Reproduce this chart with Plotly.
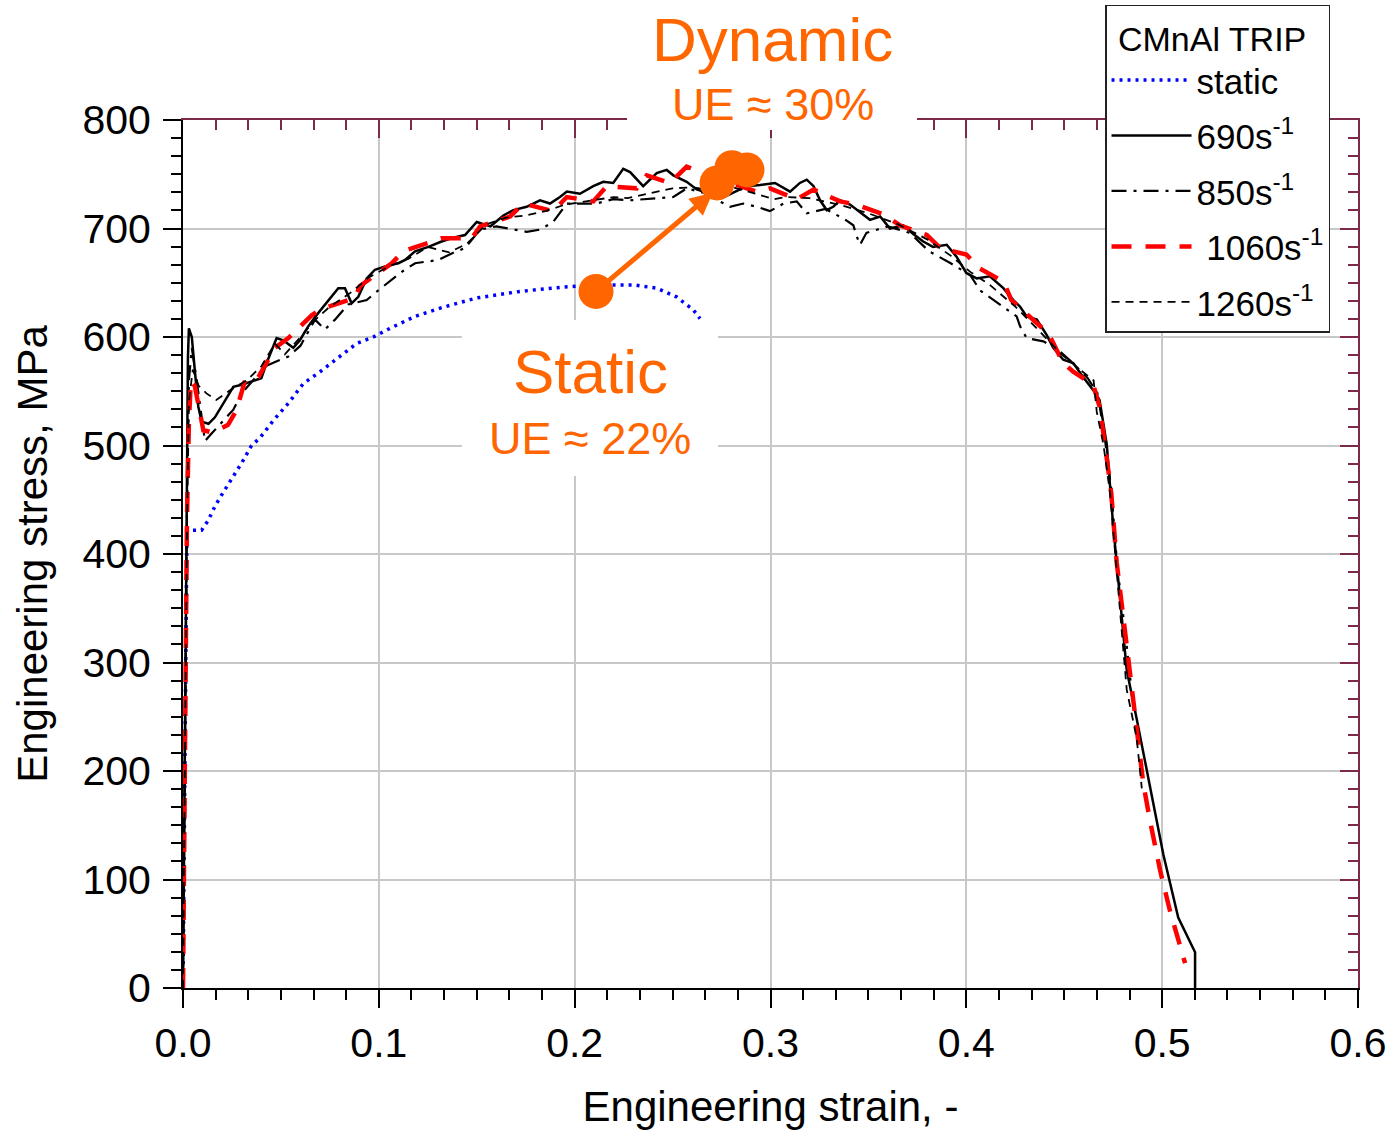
import plotly.graph_objects as go

# ---------------- data ----------------
static_strain = [0, 0.0005, 0.001, 0.0015, 0.002, 0.005, 0.0095, 0.0129, 0.0163, 0.0206, 0.0257,
                 0.030, 0.035, 0.0393, 0.0461, 0.0538, 0.0614, 0.070, 0.0793, 0.0887, 0.0972,
                 0.1057, 0.1185, 0.132, 0.150, 0.172, 0.194, 0.211, 0.230, 0.242, 0.252, 0.2606, 0.264]
static_stress = [0, 120, 260, 360, 422, 422, 422, 431, 444, 457, 471,
                 484, 500, 507, 523, 539, 557, 568, 581, 594, 600,
                 608, 619, 627, 636, 642, 646, 648, 648, 645, 637, 625, 617]

s690_strain = [0, 0.001, 0.002, 0.0025, 0.003, 0.0045, 0.006, 0.0078, 0.0095, 0.013, 0.0163,
               0.0198, 0.0257, 0.030, 0.035, 0.040, 0.0427, 0.0453, 0.0478, 0.0512, 0.0563,
               0.0597, 0.064, 0.069, 0.0725, 0.0768, 0.0793, 0.0827, 0.0861, 0.0895, 0.0938,
               0.098, 0.1048, 0.110, 0.1134, 0.1185, 0.1253, 0.132, 0.139, 0.144, 0.150,
               0.157, 0.1636, 0.1687, 0.1755, 0.1823, 0.1874, 0.1925, 0.196, 0.2027, 0.2095,
               0.2146, 0.2197, 0.2248, 0.2283, 0.235, 0.2419, 0.247, 0.2504, 0.2572, 0.2623,
               0.2657, 0.275, 0.281, 0.2878, 0.2946, 0.3023, 0.31, 0.315, 0.3185, 0.322,
               0.3253, 0.3287, 0.332, 0.3355, 0.3406, 0.3457, 0.3508, 0.356, 0.361, 0.3678,
               0.3729, 0.378, 0.383, 0.390, 0.395, 0.400, 0.4053, 0.412, 0.4189, 0.424,
               0.4274, 0.4308, 0.436, 0.441, 0.4444, 0.4495, 0.4546, 0.4597, 0.4648, 0.468,
               0.4717, 0.475, 0.4785, 0.4819, 0.487, 0.4938, 0.5006, 0.5082, 0.5168, 0.5168]
s690_stress = [0, 250, 480, 580, 608, 600, 570, 536, 522, 520, 526,
               536, 554, 556, 559, 562, 576, 588, 599, 597, 590,
               597, 610, 622, 630, 639, 645, 645, 631, 637, 654,
               662, 666, 668, 671, 679, 683, 688, 692, 694, 706,
               702, 712, 717, 720, 726, 723, 729, 734, 732, 739,
               743, 742, 755, 752, 739, 751, 754, 749, 743, 736,
               734, 728, 733, 739, 740, 742, 734, 742, 745, 739,
               726, 717, 720, 726, 722, 715, 708, 711, 700, 703,
               695, 688, 683, 685, 674, 659, 654, 656, 645, 634,
               628, 619, 616, 602, 590, 579, 576, 563, 551, 542,
               501, 426, 361, 293, 248, 184, 123, 65, 33, 0]

s850_strain = [0, 0.001, 0.002, 0.003, 0.0045, 0.007, 0.0112, 0.0146, 0.0257, 0.030, 0.0419,
               0.047, 0.0538, 0.060, 0.0674, 0.0725, 0.0776, 0.0844, 0.0938, 0.0997, 0.1048,
               0.1117, 0.1185, 0.1304, 0.1372, 0.144, 0.1517, 0.160, 0.1755, 0.1823, 0.189,
               0.196, 0.211, 0.2197, 0.2283, 0.2368, 0.2504, 0.2572, 0.2657, 0.2793, 0.2861,
               0.293, 0.2997, 0.3066, 0.3134, 0.3185, 0.328, 0.3374, 0.3423, 0.344, 0.3457,
               0.349, 0.360, 0.371, 0.381, 0.392, 0.402, 0.407, 0.4138, 0.4257, 0.4274,
               0.4308, 0.4393, 0.447, 0.455, 0.462, 0.467, 0.4705, 0.474, 0.477, 0.481, 0.484]
s850_stress = [0, 240, 440, 560, 590, 560, 504, 511, 533, 548, 573,
               577, 582, 592, 616, 607, 616, 630, 634, 643, 650,
               660, 668, 671, 677, 682, 699, 702, 697, 699, 706,
               723, 723, 727, 726, 727, 729, 737, 733, 720, 723,
               720, 716, 723, 725, 714, 718, 709, 703, 693, 685,
               696, 702, 696, 679, 668, 657, 643, 634, 619, 610,
               599, 596, 588, 575, 562, 548, 510, 460, 390, 330, 280]

s1060_strain = [0, 0.001, 0.002, 0.003, 0.004, 0.006, 0.0104, 0.015, 0.023, 0.0274, 0.0317,
                0.0385, 0.047, 0.0538, 0.0657, 0.0708, 0.0878, 0.0904, 0.1066, 0.1125, 0.132,
                0.1474, 0.1517, 0.167, 0.1738, 0.189, 0.196, 0.2095, 0.2164, 0.2317, 0.2368,
                0.2487, 0.2572, 0.275, 0.293, 0.2997, 0.3134, 0.322, 0.3355, 0.344, 0.3576,
                0.366, 0.3798, 0.3866, 0.400, 0.407, 0.419, 0.423, 0.434, 0.442, 0.4495,
                0.4546, 0.4648, 0.468, 0.4708, 0.474, 0.4768, 0.4819, 0.4853, 0.4904, 0.4938,
                0.499, 0.504, 0.5117]
s1060_stress = [0, 250, 430, 520, 560, 555, 514, 512, 519, 533, 560,
                563, 590, 599, 620, 626, 636, 647, 668, 679, 691,
                691, 702, 711, 723, 716, 729, 725, 739, 737, 749,
                742, 757, 745, 734, 737, 727, 736, 725, 722, 713,
                703, 694, 682, 676, 663, 651, 634, 616, 603, 576,
                568, 556, 536, 501, 456, 392, 316, 267, 188, 154,
                108, 71, 23]

s1260_strain = [0, 0.001, 0.002, 0.003, 0.005, 0.008, 0.012, 0.017, 0.025, 0.0325, 0.040,
                0.047, 0.052, 0.060, 0.067, 0.075, 0.085, 0.095, 0.105, 0.115, 0.125,
                0.136, 0.145, 0.155, 0.165, 0.175, 0.185, 0.195, 0.205, 0.213, 0.220,
                0.227, 0.240, 0.250, 0.260, 0.270, 0.279, 0.290, 0.302, 0.308, 0.320,
                0.335, 0.350, 0.365, 0.380, 0.392, 0.402, 0.412, 0.425, 0.437, 0.448,
                0.458, 0.465, 0.4666, 0.470, 0.4734, 0.4768, 0.4819, 0.487, 0.4896]
s1260_stress = [0, 230, 420, 540, 570, 555, 548, 542, 552, 560, 573,
                594, 584, 600, 615, 628, 640, 655, 665, 672, 683,
                678, 686, 704, 710, 712, 716, 722, 725, 727, 729,
                728, 733, 737, 738, 735, 739, 733, 727, 729, 728,
                722, 714, 704, 690, 675, 660, 648, 628, 606, 585,
                570, 560, 531, 501, 456, 381, 275, 230, 184]

# highlighted uniform-elongation points
ue_strain = [0.2109, 0.2727, 0.2803, 0.288]
ue_stress = [642, 742, 756, 754]

x_ticks = [0.0, 0.1, 0.2, 0.3, 0.4, 0.5, 0.6]
y_ticks = [0, 100, 200, 300, 400, 500, 600, 700, 800]

FONT = "Liberation Sans, Arial, sans-serif"
ORANGE = "#FF6600"
MAROON = "#7d2a4a"

fig = go.Figure()
fig.add_trace(go.Scatter(x=static_strain, y=static_stress, mode="lines", name="static",
                         legendgroup="a",
                         line=dict(color="#0000FF", width=3.5, dash="3px,5px")))
fig.add_trace(go.Scatter(x=s690_strain, y=s690_stress, mode="lines", name="690s<sup>-1</sup>",
                         legendgroup="b",
                         line=dict(color="black", width=2.5)))
fig.add_trace(go.Scatter(x=s850_strain, y=s850_stress, mode="lines", name="850s<sup>-1</sup>",
                         legendgroup="c",
                         line=dict(color="black", width=2.2, dash="15px,7px,3px,7px")))
fig.add_trace(go.Scatter(x=s1060_strain, y=s1060_stress, mode="lines", name=" 1060s<sup>-1</sup>",
                         legendgroup="d",
                         line=dict(color="#FF0000", width=4.5, dash="20px,14px")))
fig.add_trace(go.Scatter(x=s1260_strain, y=s1260_stress, mode="lines", name="1260s<sup>-1</sup>",
                         legendgroup="e",
                         line=dict(color="black", width=1.8, dash="8px,6px")))
fig.add_trace(go.Scatter(x=ue_strain, y=ue_stress, mode="markers", showlegend=False,
                         marker=dict(color=ORANGE, size=35, line=dict(width=0))))
# helper trace for the mirrored (top / right) axes
fig.add_trace(go.Scatter(x=[None], y=[None], xaxis="x2", yaxis="y2", showlegend=False,
                         hoverinfo="skip"))

# arrow from static UE to dynamic UE
fig.add_annotation(x=0.2705, y=733, ax=ue_strain[0], ay=ue_stress[0], xref="x", yref="y",
                   axref="x", ayref="y", text="", showarrow=True, arrowhead=2, arrowsize=0.9,
                   arrowwidth=5, arrowcolor=ORANGE, standoff=0, startstandoff=0)

# white boxes behind the text labels
fig.add_shape(type="rect", xref="paper", yref="paper", x0=0.3779, x1=0.6247, y0=0.9885, y1=1.14,
              fillcolor="white", line=dict(width=0), layer="above")
fig.add_shape(type="rect", xref="paper", yref="paper", x0=0.2374, x1=0.4553, y0=0.5899, y1=0.7696,
              fillcolor="white", line=dict(width=0), layer="above")

fig.add_annotation(x=0.502, y=1.0922, xref="paper", yref="paper", text="Dynamic", showarrow=False,
                   font=dict(size=62, color=ORANGE, family=FONT), xanchor="center", yanchor="middle")
fig.add_annotation(x=0.502, y=1.0173, xref="paper", yref="paper", text="UE ≈ 30%", showarrow=False,
                   font=dict(size=45, color=ORANGE, family=FONT), xanchor="center", yanchor="middle")
fig.add_annotation(x=0.3464, y=0.7097, xref="paper", yref="paper", text="Static", showarrow=False,
                   font=dict(size=62, color=ORANGE, family=FONT), xanchor="center", yanchor="middle")
fig.add_annotation(x=0.3464, y=0.6336, xref="paper", yref="paper", text="UE ≈ 22%", showarrow=False,
                   font=dict(size=45, color=ORANGE, family=FONT), xanchor="center", yanchor="middle")

fig.update_layout(
    width=1393, height=1136,
    margin=dict(l=183, r=35, t=120, b=148, autoexpand=False),
    paper_bgcolor="white", plot_bgcolor="white",
    font=dict(family=FONT, color="black"),
    xaxis=dict(range=[0, 0.6], tickvals=x_ticks, ticktext=[f"{v:.1f}" for v in x_ticks],
               ticks="outside", ticklen=18, tickwidth=2, tickcolor="black",
               minor=dict(dtick=0.1 / 6, ticks="outside", ticklen=10, tickwidth=2,
                          tickcolor="black", showgrid=False),
               showline=True, linecolor="black", linewidth=2,
               showgrid=True, gridcolor="#c8c8c8", gridwidth=1.5, zeroline=False,
               tickfont=dict(size=41), title=dict(text="Engineering strain, -",
                                                  font=dict(size=42), standoff=26)),
    yaxis=dict(range=[0, 800], tickvals=y_ticks, ticklabelstandoff=4,
               ticks="outside", ticklen=18, tickwidth=2, tickcolor="black",
               minor=dict(dtick=100 / 6, ticks="outside", ticklen=10, tickwidth=2,
                          tickcolor="black", showgrid=False),
               showline=True, linecolor="black", linewidth=2,
               showgrid=True, gridcolor="#c8c8c8", gridwidth=1.5, zeroline=False,
               tickfont=dict(size=41), title=dict(text="Engineering stress, MPa",
                                                  font=dict(size=42), standoff=22)),
    xaxis2=dict(overlaying="x", side="top", range=[0, 0.6], tickvals=x_ticks,
                ticks="inside", ticklen=18, tickwidth=2, tickcolor=MAROON,
                minor=dict(dtick=0.1 / 6, ticks="inside", ticklen=10, tickwidth=2,
                           tickcolor=MAROON, showgrid=False),
                showline=True, linecolor=MAROON, linewidth=2, showticklabels=False,
                showgrid=False, zeroline=False),
    yaxis2=dict(overlaying="y", side="right", range=[0, 800], tickvals=y_ticks,
                ticks="inside", ticklen=18, tickwidth=2, tickcolor=MAROON,
                minor=dict(dtick=100 / 6, ticks="inside", ticklen=10, tickwidth=2,
                           tickcolor=MAROON, showgrid=False),
                showline=True, linecolor=MAROON, linewidth=2, showticklabels=False,
                showgrid=False, zeroline=False),
    legend=dict(x=0.7847, y=1.1325, xanchor="left", yanchor="top",
                bgcolor="white", bordercolor="#222", borderwidth=1.5,
                font=dict(size=35, family=FONT), itemwidth=80,
                title=dict(text=" CMnAl TRIP", font=dict(size=34, family=FONT)),
                tracegroupgap=7),
    showlegend=True,
)

fig.write_html("out.html")
